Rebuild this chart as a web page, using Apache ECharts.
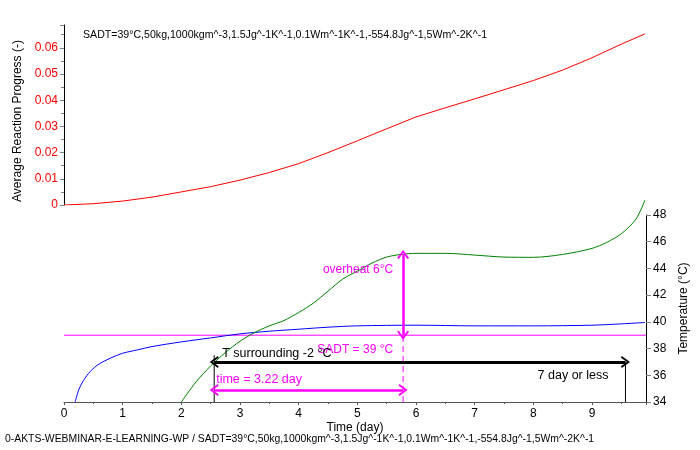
<!DOCTYPE html>
<html>
<head>
<meta charset="utf-8">
<script src="https://cdn.jsdelivr.net/npm/echarts@6/dist/echarts.min.js"></script>
<style>
  html, body { margin: 0; padding: 0; background: #fff; }
  #chart { width: 700px; height: 450px; }
</style>
</head>
<body>
<div id="chart"></div>
<script>
// reaction progress (top panel)
var rpTime  = [0, 0.5, 1, 1.5, 2, 2.5, 3, 3.5, 4, 4.5, 5, 5.5, 6, 6.5, 7, 7.5, 8, 8.5, 9, 9.5, 9.9];
var rpValue = [0, 0.0005, 0.0015, 0.003, 0.005, 0.007, 0.0095, 0.0124, 0.0158, 0.02, 0.0245, 0.0291, 0.0336, 0.0371, 0.0405, 0.044, 0.0475, 0.0515, 0.0562, 0.0614, 0.0653];

// temperature curves (bottom panel)
var blueTime = [0.19, 0.25, 0.33, 0.45, 0.6, 0.8, 1.0, 1.25, 1.5, 2, 2.5, 3, 3.5, 4, 4.5, 5, 6, 7, 8, 9, 9.5, 9.9];
var blueTemp = [34, 34.9, 35.6, 36.3, 36.85, 37.3, 37.65, 37.9, 38.15, 38.5, 38.8, 39.1, 39.3, 39.45, 39.6, 39.7, 39.75, 39.7, 39.7, 39.75, 39.85, 39.95];

var greenTime = [2, 2.25, 2.5, 2.75, 3, 3.25, 3.5, 3.75, 4, 4.25, 4.5, 4.75, 5, 5.25, 5.5, 5.75, 6, 6.5, 7, 7.5, 8, 8.5, 9, 9.25, 9.5, 9.75, 9.9];
var greenTemp = [34, 35.5, 36.7, 37.7, 38.55, 39.2, 39.7, 40.1, 40.7, 41.4, 42.3, 43.2, 43.8, 44.4, 44.85, 45.05, 45.13, 45.13, 45.0, 44.85, 44.83, 45.05, 45.5, 45.95, 46.6, 47.7, 49.1];

// annotation values
var sadt = 39;
var peakTemp = 45.05;
var tStart = 2.56;
var tPeak = 5.78;
var tLimit = 9.57;
var tMax = 9.92;
var tempMin = 34;
var surroundArrowTemp = 37;
var timeArrowTemp = 34.9;

var titleText = 'SADT=39°C,50kg,1000kgm^-3,1.5Jg^-1K^-1,0.1Wm^-1K^-1,-554.8Jg^-1,5Wm^-2K^-1';
var footerText = '0-AKTS-WEBMINAR-E-LEARNING-WP / SADT=39°C,50kg,1000kgm^-3,1.5Jg^-1K^-1,0.1Wm^-1K^-1,-554.8Jg^-1,5Wm^-2K^-1';

function pairs(xs, ys) {
    var out = [];
    for (var i = 0; i < xs.length; i++) out.push([xs[i], ys[i]]);
    return out;
}

var FONT = '"Liberation Sans", Arial, sans-serif';
var MAGENTA = '#ff00ff';
// open chevron pointing up, markLine rotates it along the line
var chevron = 'path://M0,10 L6,0 L12,10 L10.2,11 L6,3.6 L1.8,11 Z';

function plainLine(data, color, type) {
    return {
        type: 'line', xAxisIndex: 1, yAxisIndex: 1, showSymbol: false, symbol: 'none', silent: true,
        data: data, lineStyle: { color: color, width: 1, type: type || 'solid' }, itemStyle: { color: color }
    };
}

function note(text, x, y, pos, dist, color, size) {
    return { name: text, coord: [x, y],
        label: { show: true, formatter: '{b}', position: pos, distance: dist, color: color, fontSize: size, fontFamily: FONT } };
}

const chartDom = document.getElementById('chart');
const myChart = echarts.init(chartDom);
let option;

option = {
    animation: false,
    backgroundColor: '#fff',
    textStyle: { fontFamily: FONT },
    graphic: [
        { type: 'text', left: 83, top: 30, style: { text: titleText, font: '10.6px ' + FONT, fill: '#000' } },
        { type: 'text', left: 5, top: 434, style: { text: footerText, font: '10.4px ' + FONT, fill: '#000' } }
    ],
    grid: [
        { left: 64, right: 54, top: 25, height: 180 },
        { left: 64, right: 54, top: 215, height: 187 }
    ],
    xAxis: [
        { gridIndex: 0, type: 'value', min: 0, max: tMax, show: false },
        {
            gridIndex: 1, type: 'value', min: 0, max: tMax, interval: 1,
            name: 'Time (day)', nameLocation: 'middle', nameGap: 20,
            nameTextStyle: { color: '#000', fontSize: 12, fontFamily: FONT },
            axisLine: { onZero: false, lineStyle: { color: '#555', width: 1 } },
            axisTick: { length: 3, lineStyle: { color: '#555' } },
            minorTick: { show: true, splitNumber: 2, length: 2, lineStyle: { color: '#555' } },
            axisLabel: { color: '#000', fontSize: 12, margin: 6, showMaxLabel: false,
                formatter: function (v) { return Number.isInteger(v) ? v : ''; } },
            splitLine: { show: false }
        }
    ],
    yAxis: [
        {
            gridIndex: 0, type: 'value', min: 0, max: 0.0687, interval: 0.01,
            name: 'Average Reaction Progress (-)', nameLocation: 'middle', nameGap: 31,
            nameTextStyle: { color: '#000', fontSize: 12, fontFamily: FONT, padding: [0, 12, 0, 0] },
            axisLine: { show: true, onZero: false, lineStyle: { color: '#000' } },
            axisTick: { show: true, length: 4, lineStyle: { color: '#808080' } },
            minorTick: { show: true, splitNumber: 2, length: 3, lineStyle: { color: '#808080' } },
            axisLabel: { color: '#ff0000', fontSize: 12, margin: 6, showMaxLabel: false },
            splitLine: { show: false }
        },
        {
            gridIndex: 1, type: 'value', position: 'right', min: tempMin, max: 48, interval: 2,
            name: 'Temperature (°C)', nameLocation: 'middle', nameGap: 31, nameRotate: 90,
            nameTextStyle: { color: '#000', fontSize: 12, fontFamily: FONT },
            axisLine: { show: true, onZero: false, lineStyle: { color: '#000' } },
            axisTick: { show: true, length: 5, lineStyle: { color: '#808080' } },
            axisLabel: { color: '#000', fontSize: 12, margin: 7 },
            splitLine: { show: false }
        }
    ],
    series: [
        {
            type: 'line', xAxisIndex: 0, yAxisIndex: 0, showSymbol: false, symbol: 'none',
            data: pairs(rpTime, rpValue), lineStyle: { color: '#ff0000', width: 1 }, itemStyle: { color: '#ff0000' }
        },
        plainLine([[0, sadt], [tMax, sadt]], MAGENTA),
        plainLine([[tPeak, tempMin], [tPeak, sadt]], MAGENTA, [6, 4]),
        plainLine([[tStart, tempMin], [tStart, surroundArrowTemp + 0.5]], '#000'),
        plainLine([[tLimit, tempMin], [tLimit, surroundArrowTemp]], '#000'),
        {
            type: 'line', xAxisIndex: 1, yAxisIndex: 1, showSymbol: false, symbol: 'none', smooth: 0.3,
            data: pairs(blueTime, blueTemp), lineStyle: { color: '#0000ff', width: 1 }, itemStyle: { color: '#0000ff' }
        },
        {
            type: 'line', xAxisIndex: 1, yAxisIndex: 1, showSymbol: false, symbol: 'none', smooth: 0.3, clip: false,
            data: pairs(greenTime, greenTemp), lineStyle: { color: '#008000', width: 1 }, itemStyle: { color: '#008000' }
        },
        {
            // arrows and notes
            type: 'line', xAxisIndex: 1, yAxisIndex: 1, data: [],
            markLine: {
                silent: true, animation: false,
                label: { show: false },
                symbol: [chevron, chevron],
                symbolSize: [12, 9],
                data: [
                    [{ coord: [tPeak, sadt], lineStyle: { color: MAGENTA, width: 2.5, type: 'solid' } },
                     { coord: [tPeak, peakTemp] }],
                    [{ coord: [tStart, timeArrowTemp], lineStyle: { color: MAGENTA, width: 2.5, type: 'solid' } },
                     { coord: [tPeak, timeArrowTemp] }],
                    [{ coord: [tStart, surroundArrowTemp], lineStyle: { color: '#000', width: 3, type: 'solid' } },
                     { coord: [tLimit, surroundArrowTemp] }]
                ]
            },
            markPoint: {
                silent: true, animation: false,
                symbol: 'circle', symbolSize: 0,
                itemStyle: { color: 'transparent' },
                data: [
                    note('overheat 6°C', tPeak, 43.9, 'left', 10, MAGENTA, 12),
                    note('SADT = 39 °C', tPeak, 37.95, 'left', 10, MAGENTA, 12),
                    note('T surrounding -2 °C', tStart, 37.6, 'right', 8, '#000', 12.5),
                    note('time = 3.22 day', tStart, 35.7, 'right', 2, MAGENTA, 12.5),
                    note('7 day or less', tLimit, 35.95, 'left', 17, '#000', 12.5)
                ]
            }
        }
    ]
};

option && myChart.setOption(option);
</script>
</body>
</html>
